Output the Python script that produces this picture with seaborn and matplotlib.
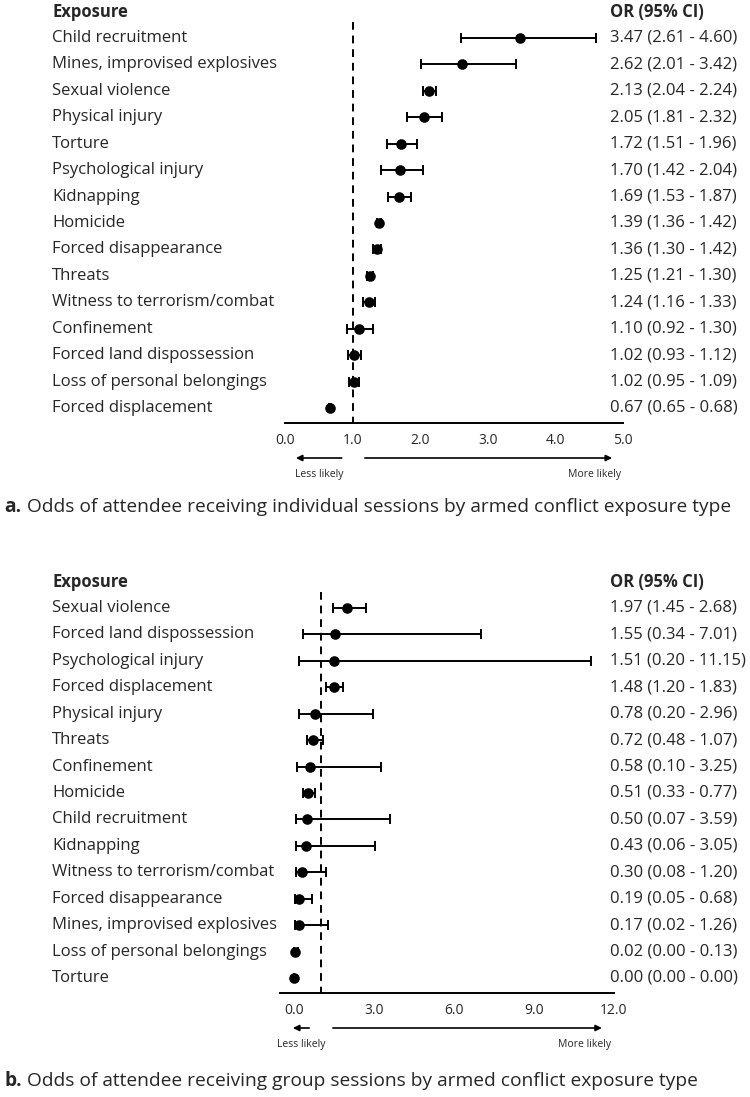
import matplotlib
matplotlib.use("Agg")
import matplotlib.pyplot as plt
import matplotlib.transforms as mtransforms
import seaborn as sns
import pandas as pd

# panel a: individual sessions
exposure_a = ["Child recruitment", "Mines, improvised explosives", "Sexual violence",
              "Physical injury", "Torture", "Psychological injury", "Kidnapping",
              "Homicide", "Forced disappearance", "Threats", "Witness to terrorism/combat",
              "Confinement", "Forced land dispossession", "Loss of personal belongings",
              "Forced displacement"]
or_a = [3.47, 2.62, 2.13, 2.05, 1.72, 1.70, 1.69, 1.39, 1.36, 1.25, 1.24, 1.10, 1.02, 1.02, 0.67]
lo_a = [2.61, 2.01, 2.04, 1.81, 1.51, 1.42, 1.53, 1.36, 1.30, 1.21, 1.16, 0.92, 0.93, 0.95, 0.65]
hi_a = [4.60, 3.42, 2.24, 2.32, 1.96, 2.04, 1.87, 1.42, 1.42, 1.30, 1.33, 1.30, 1.12, 1.09, 0.68]

# panel b: group sessions
exposure_b = ["Sexual violence", "Forced land dispossession", "Psychological injury",
              "Forced displacement", "Physical injury", "Threats", "Confinement", "Homicide",
              "Child recruitment", "Kidnapping", "Witness to terrorism/combat",
              "Forced disappearance", "Mines, improvised explosives",
              "Loss of personal belongings", "Torture"]
or_b = [1.97, 1.55, 1.51, 1.48, 0.78, 0.72, 0.58, 0.51, 0.50, 0.43, 0.30, 0.19, 0.17, 0.02, 0.00]
lo_b = [1.45, 0.34, 0.20, 1.20, 0.20, 0.48, 0.10, 0.33, 0.07, 0.06, 0.08, 0.05, 0.02, 0.00, 0.00]
hi_b = [2.68, 7.01, 11.15, 1.83, 2.96, 1.07, 3.25, 0.77, 3.59, 3.05, 1.20, 0.68, 1.26, 0.13, 0.00]

sns.set_style("white")
plt.rcParams["font.family"] = ["Open Sans", "DejaVu Sans"]

W, H = 750, 1097
fig = plt.figure(figsize=(W / 100, H / 100), dpi=100)

LABEL_X = 52 / W
OR_X = 610 / W
FS = 12


def forest(ax, names, ors, los, his, xlim, ticks, less_x, more_x, caption_y, letter, caption):
    df = pd.DataFrame({"exposure": names, "or": ors, "lo": los, "hi": his})
    df["row"] = range(len(df))
    ax.errorbar(df["or"], df["row"],
                xerr=[df["or"] - df["lo"], df["hi"] - df["or"]],
                fmt="none", ecolor="black", elinewidth=1.4, capsize=3.5, capthick=1.4, zorder=2)
    sns.scatterplot(data=df, x="or", y="row", color="black", s=58, edgecolor="black",
                    linewidth=0, zorder=3, ax=ax, legend=False)
    ax.vlines(1.0, -0.6, len(df) - 0.4, colors="black", linestyles=(0, (4, 3)), linewidth=1.4, zorder=1)
    ax.set_xlim(*xlim)
    ax.set_ylim(len(df) - 0.43, -1.4)
    ax.set_xticks(ticks)
    ax.set_xticklabels([f"{t:.1f}" for t in ticks], fontsize=10)
    ax.set_yticks([])
    ax.set_xlabel("")
    ax.set_ylabel("")
    for s in ["top", "left", "right"]:
        ax.spines[s].set_visible(False)
    ax.spines["bottom"].set_linewidth(1.4)
    ax.spines["bottom"].set_color("black")
    ax.tick_params(axis="x", direction="out", length=5, width=1.4, color="black", pad=2)

    trans = mtransforms.blended_transform_factory(fig.transFigure, ax.transData)
    ax.text(LABEL_X, -1, "Exposure", transform=trans, fontsize=FS, fontweight="bold", va="center")
    ax.text(OR_X, -1, "OR (95% CI)", transform=trans, fontsize=FS, fontweight="bold", va="center")
    for _, r in df.iterrows():
        ax.text(LABEL_X, r["row"], r["exposure"], transform=trans, fontsize=FS, va="center")
        ax.text(OR_X, r["row"], f"{r['or']:.2f} ({r['lo']:.2f} - {r['hi']:.2f})",
                transform=trans, fontsize=FS, va="center")

    # direction arrows below the axis
    arrow_y = -35 / (ax.bbox.height)
    for x0, x1 in (less_x, more_x):
        ax.annotate("", xy=(x1, arrow_y), xytext=(x0, arrow_y),
                    xycoords=("data", "axes fraction"), textcoords=("data", "axes fraction"),
                    arrowprops=dict(arrowstyle="-|>", color="black", lw=1.2, mutation_scale=9),
                    annotation_clip=False)
    txt_y = -52 / (ax.bbox.height)
    ax.text((less_x[0] + less_x[1]) / 2, txt_y, "Less likely", transform=ax.get_xaxis_transform(),
            fontsize=7.5, ha="center", va="center")
    ax.text(more_x[1] - (xlim[1] - xlim[0]) * 0.06, txt_y, "More likely",
            transform=ax.get_xaxis_transform(), fontsize=7.5, ha="center", va="center")

    fig.text(4 / W, 1 - caption_y / H, letter, fontsize=13.8, fontweight="bold", va="center")
    fig.text(4 / W + 0.031, 1 - caption_y / H, caption, fontsize=13.8, va="center")


# axes boxes in pixel coordinates (left, top, right, bottom)
def add_axes(left, top, right, bottom):
    return fig.add_axes([left / W, 1 - bottom / H, (right - left) / W, (bottom - top) / H])


ax_a = add_axes(285, 1, 623, 423)
ax_b = add_axes(280, 571, 614, 993)

forest(ax_a, exposure_a, or_a, lo_a, hi_a, (0, 5), [0, 1, 2, 3, 4, 5],
       less_x=(0.88, 0.12), more_x=(1.14, 4.88), caption_y=507,
       letter="a.", caption="Odds of attendee receiving individual sessions by armed conflict exposure type")
forest(ax_b, exposure_b, or_b, lo_b, hi_b, (-0.53, 12), [0, 3, 6, 9, 12],
       less_x=(0.67, -0.15), more_x=(1.35, 11.65), caption_y=1081,
       letter="b.", caption="Odds of attendee receiving group sessions by armed conflict exposure type")

fig.savefig("out.png", dpi=100)
